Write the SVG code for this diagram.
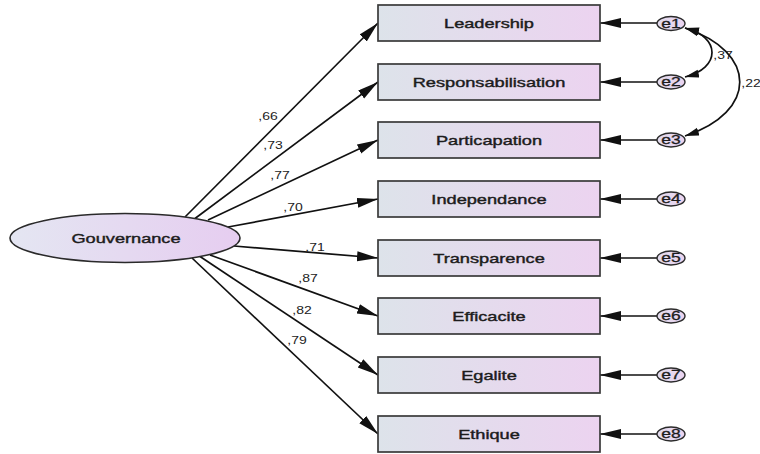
<svg xmlns="http://www.w3.org/2000/svg" width="760" height="454" viewBox="0 0 760 454">
  <style>
    .box { stroke: #3a3a3a; stroke-width: 1.7; fill: url(#boxFill); }
    .lat { stroke: #2a2a2a; stroke-width: 1.6; fill: url(#latFill); }
    .err { stroke: #2a2a2a; stroke-width: 1.4; fill: url(#errFill); }
    .lbl { font-family: "Liberation Sans", Arial, sans-serif; font-size: 13px; fill: #1c1c1c; stroke: #1c1c1c; stroke-width: 0.4; text-anchor: middle; }
    .elbl { font-family: "Liberation Sans", Arial, sans-serif; font-size: 12.5px; fill: #1c1c1c; stroke: #1c1c1c; stroke-width: 0.3; text-anchor: middle; }
    .coef { font-family: "Liberation Sans", Arial, sans-serif; font-size: 10px; fill: #222; text-anchor: middle; }
    .path { stroke: #111; stroke-width: 1.7; fill: none; marker-end: url(#head); }
    .cov { stroke: #111; stroke-width: 1.7; fill: none; marker-start: url(#headS); marker-end: url(#headS); }
  </style>
  <defs>
    <linearGradient id="boxFill" x1="0" y1="0" x2="1" y2="0">
      <stop offset="0" stop-color="#dde3ea"/>
      <stop offset="1" stop-color="#ecd3f0"/>
    </linearGradient>
    <linearGradient id="latFill" x1="0" y1="0" x2="1" y2="0">
      <stop offset="0" stop-color="#e4e6f2"/>
      <stop offset="1" stop-color="#e6cdf0"/>
    </linearGradient>
    <linearGradient id="errFill" x1="0" y1="0" x2="1" y2="0">
      <stop offset="0" stop-color="#e2dcee"/>
      <stop offset="1" stop-color="#ead4f0"/>
    </linearGradient>
    <marker id="head" markerUnits="userSpaceOnUse" markerWidth="22" markerHeight="11" refX="21" refY="5" orient="auto">
      <path d="M0,0 L21,5 L0,10 z" fill="#111"/>
    </marker>
    <marker id="headS" markerUnits="userSpaceOnUse" markerWidth="16" markerHeight="10" refX="14" refY="4" orient="auto-start-reverse">
      <path d="M0,0 L14,4 L0,8 z" fill="#111"/>
    </marker>
  </defs>

  <!-- connectors: loadings, error paths, covariances -->
  <g id="connectors">
    <line class="path" x1="185" y1="217" x2="378" y2="23"/>
    <line class="path" x1="195" y1="218.5" x2="378" y2="82"/>
    <line class="path" x1="208" y1="220" x2="378" y2="140"/>
    <line class="path" x1="228" y1="227" x2="378" y2="199"/>
    <line class="path" x1="234" y1="246" x2="378" y2="258"/>
    <line class="path" x1="210" y1="255" x2="378" y2="316"/>
    <line class="path" x1="200" y1="256.5" x2="378" y2="375"/>
    <line class="path" x1="192" y1="258" x2="378" y2="434"/>

    <line class="path" x1="657" y1="23" x2="600" y2="23"/>
    <line class="path" x1="657" y1="82" x2="600" y2="82"/>
    <line class="path" x1="657" y1="140" x2="600" y2="140"/>
    <line class="path" x1="657" y1="199" x2="600" y2="199"/>
    <line class="path" x1="657" y1="258" x2="600" y2="258"/>
    <line class="path" x1="657" y1="316" x2="600" y2="316"/>
    <line class="path" x1="657" y1="375" x2="600" y2="375"/>
    <line class="path" x1="657" y1="434" x2="600" y2="434"/>

    <path class="cov" d="M685,28 C721,37 721,68 685,77"/>
    <path class="cov" d="M685,28 C758,52 758,112 685,136"/>

    <text class="coef" transform="matrix(1.4 0 0 1 268 119.5)">,66</text>
    <text class="coef" transform="matrix(1.4 0 0 1 273 148.5)">,73</text>
    <text class="coef" transform="matrix(1.4 0 0 1 280 178.5)">,77</text>
    <text class="coef" transform="matrix(1.4 0 0 1 293 210.5)">,70</text>
    <text class="coef" transform="matrix(1.4 0 0 1 315 250.5)">,71</text>
    <text class="coef" transform="matrix(1.4 0 0 1 308 281.5)">,87</text>
    <text class="coef" transform="matrix(1.4 0 0 1 302 313.5)">,82</text>
    <text class="coef" transform="matrix(1.4 0 0 1 297 343.5)">,79</text>
    <text class="coef" transform="matrix(1.4 0 0 1 723 58.5)">,37</text>
    <text class="coef" transform="matrix(1.4 0 0 1 751 86.5)">,22</text>
  </g>

  <!-- latent factor -->
  <g id="gouvernance">
    <ellipse class="lat" cx="125" cy="238" rx="115" ry="24.5"/>
    <text class="lbl" transform="matrix(1.4 0 0 1 126 242.5)">Gouvernance</text>
  </g>

  <!-- observed indicators -->
  <g id="leadership">
    <rect class="box" x="378" y="5" width="222" height="36"/>
    <text class="lbl" transform="matrix(1.4 0 0 1 489 27.5)">Leadership</text>
  </g>
  <g id="responsabilisation">
    <rect class="box" x="378" y="64" width="222" height="36"/>
    <text class="lbl" transform="matrix(1.4 0 0 1 489 86.5)">Responsabilisation</text>
  </g>
  <g id="particapation">
    <rect class="box" x="378" y="122" width="222" height="36"/>
    <text class="lbl" transform="matrix(1.4 0 0 1 489 144.5)">Particapation</text>
  </g>
  <g id="independance">
    <rect class="box" x="378" y="181" width="222" height="36"/>
    <text class="lbl" transform="matrix(1.4 0 0 1 489 203.5)">Independance</text>
  </g>
  <g id="transparence">
    <rect class="box" x="378" y="240" width="222" height="36"/>
    <text class="lbl" transform="matrix(1.4 0 0 1 489 262.5)">Transparence</text>
  </g>
  <g id="efficacite">
    <rect class="box" x="378" y="298" width="222" height="36"/>
    <text class="lbl" transform="matrix(1.4 0 0 1 489 320.5)">Efficacite</text>
  </g>
  <g id="egalite">
    <rect class="box" x="378" y="357" width="222" height="36"/>
    <text class="lbl" transform="matrix(1.4 0 0 1 489 379.5)">Egalite</text>
  </g>
  <g id="ethique">
    <rect class="box" x="378" y="416" width="222" height="36"/>
    <text class="lbl" transform="matrix(1.4 0 0 1 489 438.5)">Ethique</text>
  </g>

  <!-- error terms -->
  <g id="e1"><ellipse class="err" cx="671" cy="23.5" rx="14" ry="7"/><text class="elbl" transform="matrix(1.4 0 0 1 671 27.8)">e1</text></g>
  <g id="e2"><ellipse class="err" cx="671" cy="82" rx="14" ry="7"/><text class="elbl" transform="matrix(1.4 0 0 1 671 86.3)">e2</text></g>
  <g id="e3"><ellipse class="err" cx="671" cy="140" rx="14" ry="7"/><text class="elbl" transform="matrix(1.4 0 0 1 671 144.3)">e3</text></g>
  <g id="e4"><ellipse class="err" cx="671" cy="199" rx="14" ry="7"/><text class="elbl" transform="matrix(1.4 0 0 1 671 203.3)">e4</text></g>
  <g id="e5"><ellipse class="err" cx="671" cy="258" rx="14" ry="7"/><text class="elbl" transform="matrix(1.4 0 0 1 671 262.3)">e5</text></g>
  <g id="e6"><ellipse class="err" cx="671" cy="316" rx="14" ry="7"/><text class="elbl" transform="matrix(1.4 0 0 1 671 320.3)">e6</text></g>
  <g id="e7"><ellipse class="err" cx="671" cy="375" rx="14" ry="7"/><text class="elbl" transform="matrix(1.4 0 0 1 671 379.3)">e7</text></g>
  <g id="e8"><ellipse class="err" cx="671" cy="434" rx="14" ry="7"/><text class="elbl" transform="matrix(1.4 0 0 1 671 438.3)">e8</text></g>
</svg>
